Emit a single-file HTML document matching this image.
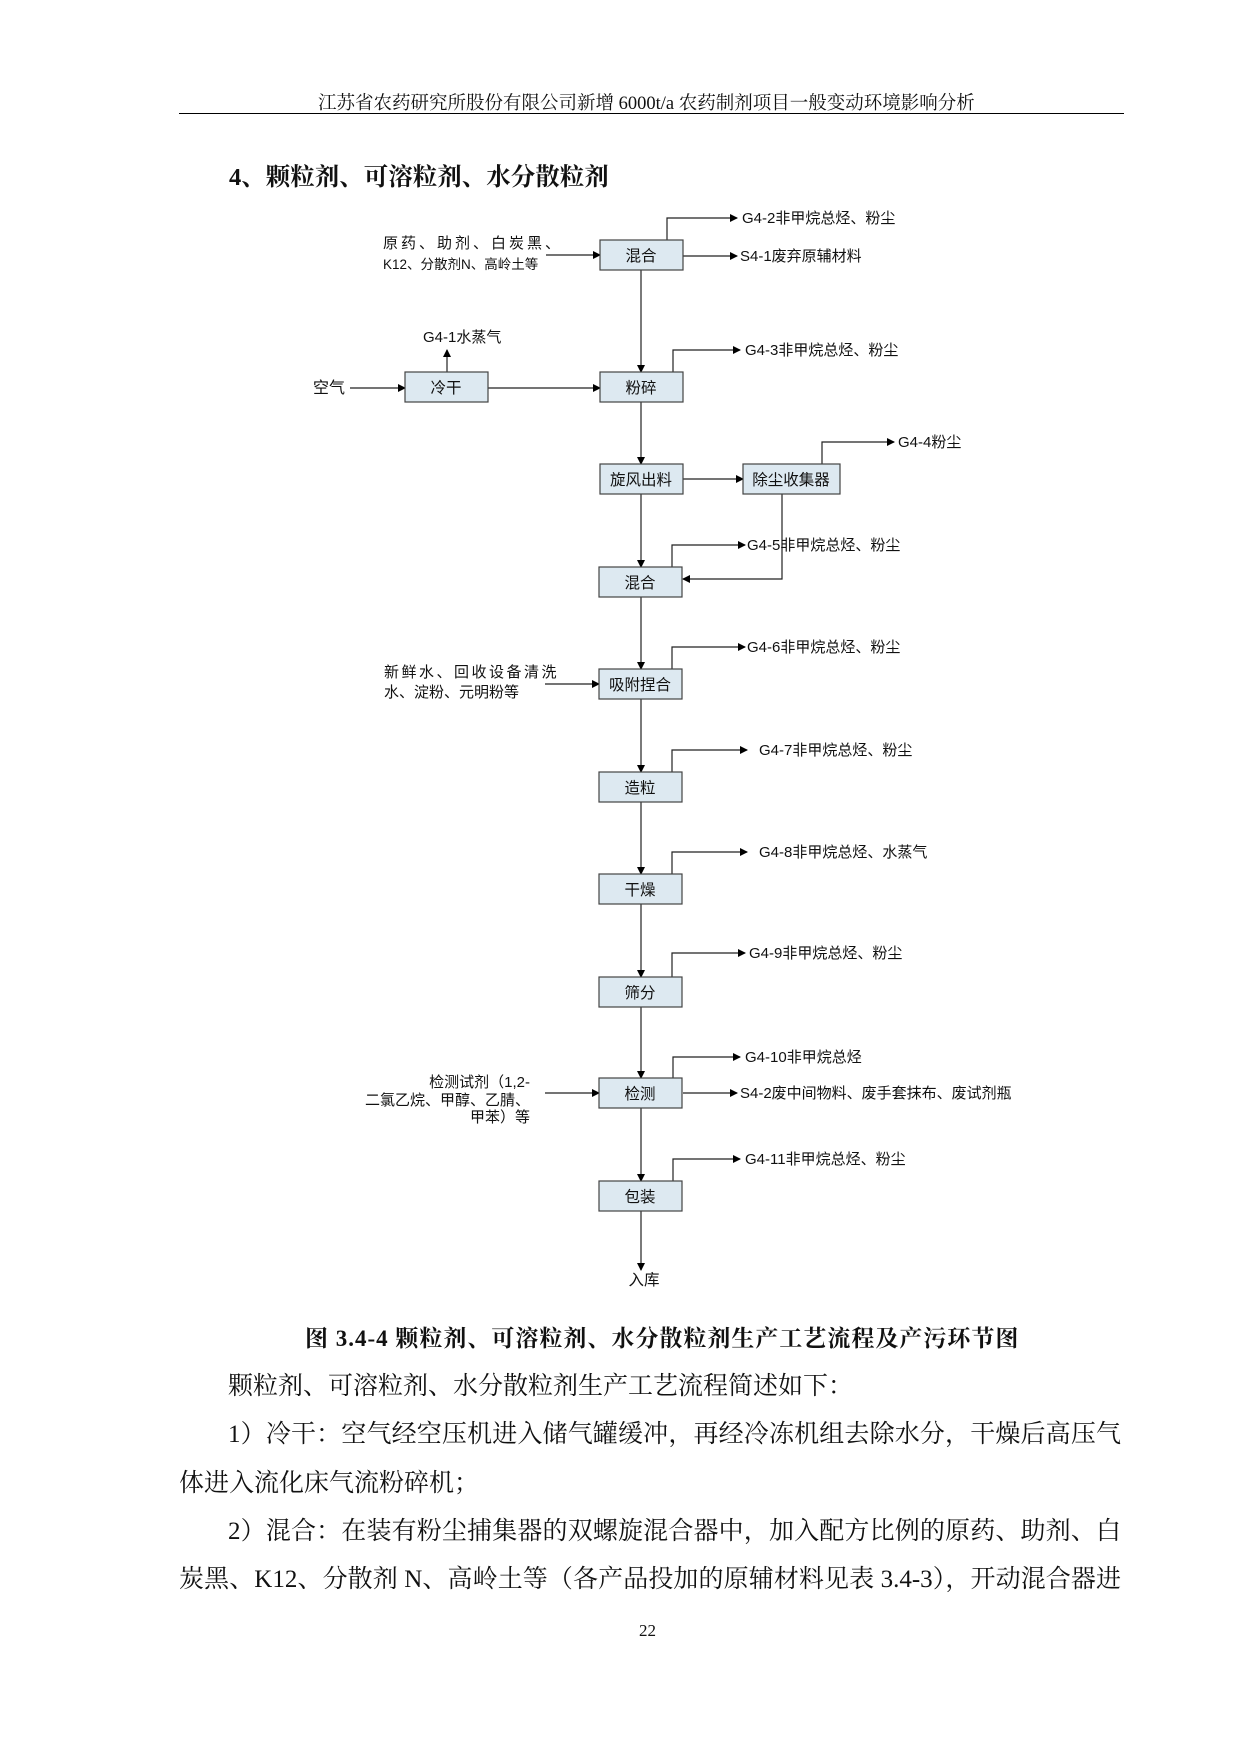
<!DOCTYPE html>
<html><head><meta charset="utf-8"><style>
body{margin:0;background:#fff;}
#p{position:relative;width:1241px;height:1755px;overflow:hidden;font-family:"Liberation Serif","Noto Serif CJK SC","Noto Sans CJK SC",serif;color:#111;}
.t{position:absolute;white-space:nowrap;}
.ln{position:absolute;left:179px;width:942px;font-size:25px;text-align:justify;text-align-last:justify;white-space:nowrap;}
</style></head><body><div id="p">
<div class="t" style="left:318px;top:89px;font-size:18.5px;">江苏省农药研究所股份有限公司新增 6000t/a 农药制剂项目一般变动环境影响分析</div>
<div style="position:absolute;left:179px;top:113px;width:945px;height:1px;background:#000;"></div>
<div class="t" style="left:229px;top:158px;font-size:24.5px;font-weight:bold;">4、颗粒剂、可溶粒剂、水分散粒剂</div>

<svg style="position:absolute;left:0;top:0" width="1241" height="1330" font-family="Liberation Sans, Noto Sans CJK SC, sans-serif" font-size="15">
<defs><marker id="a" markerWidth="8" markerHeight="8" refX="7" refY="4" orient="auto" markerUnits="userSpaceOnUse"><path d="M0,0 L8,4 L0,8 z" fill="#000"/></marker></defs>
<g stroke="#222" stroke-width="1.2" fill="none" marker-end="url(#a)">
<line x1="641" y1="270" x2="641" y2="372"/>
<line x1="641" y1="402" x2="641" y2="464"/>
<line x1="641" y1="494" x2="641" y2="567"/>
<line x1="641" y1="597" x2="641" y2="669"/>
<line x1="641" y1="699" x2="641" y2="772"/>
<line x1="641" y1="802" x2="641" y2="874"/>
<line x1="641" y1="904" x2="641" y2="977"/>
<line x1="641" y1="1007" x2="641" y2="1078"/>
<line x1="641" y1="1108" x2="641" y2="1181"/>
<line x1="641" y1="1211" x2="641" y2="1270"/>
<line x1="546" y1="255" x2="600" y2="255"/>
<line x1="350" y1="388" x2="405" y2="388"/>
<line x1="488" y1="388" x2="600" y2="388"/>
<line x1="447" y1="372" x2="447" y2="350"/>
<line x1="683" y1="479" x2="743" y2="479"/>
<line x1="545" y1="684" x2="599" y2="684"/>
<line x1="545" y1="1093" x2="599" y2="1093"/>
<line x1="683" y1="256" x2="737" y2="256"/>
<line x1="683" y1="1093" x2="737" y2="1093"/>
<polyline points="667,240 667,218 737,218"/>
<polyline points="673,372 673,350 740,350"/>
<polyline points="822,464 822,442 894,442"/>
<polyline points="672,567 672,545 745,545"/>
<polyline points="782,494 782,579 683,579"/>
<polyline points="672,669 672,647 745,647"/>
<polyline points="672,772 672,750 747,750"/>
<polyline points="672,874 672,852 747,852"/>
<polyline points="672,977 672,953 745,953"/>
<polyline points="673,1078 673,1057 740,1057"/>
<polyline points="673,1181 673,1159 740,1159"/>
</g>
<g fill="#dde9f1" stroke="#444" stroke-width="1.2">
<rect x="600" y="240" width="83" height="30"/>
<rect x="405" y="372" width="83" height="30"/>
<rect x="600" y="372" width="83" height="30"/>
<rect x="600" y="464" width="83" height="30"/>
<rect x="743" y="464" width="97" height="30"/>
<rect x="599" y="567" width="83" height="30"/>
<rect x="599" y="669" width="83" height="30"/>
<rect x="599" y="772" width="83" height="30"/>
<rect x="599" y="874" width="83" height="30"/>
<rect x="599" y="977" width="83" height="30"/>
<rect x="599" y="1078" width="83" height="30"/>
<rect x="599" y="1181" width="83" height="30"/>
</g>
<g fill="#111" text-anchor="middle" font-size="15.5">
<text x="641" y="261">混合</text>
<text x="446" y="393">冷干</text>
<text x="641" y="393">粉碎</text>
<text x="641" y="485">旋风出料</text>
<text x="791" y="485">除尘收集器</text>
<text x="640" y="588">混合</text>
<text x="640" y="690">吸附捏合</text>
<text x="640" y="793">造粒</text>
<text x="640" y="895">干燥</text>
<text x="640" y="998">筛分</text>
<text x="640" y="1099">检测</text>
<text x="640" y="1202">包装</text>
<text x="644" y="1285">入库</text>
</g>
<g fill="#111">
<text x="742" y="223">G4-2非甲烷总烃、粉尘</text>
<text x="740" y="261">S4-1废弃原辅材料</text>
<text x="383" y="248" letter-spacing="3">原药、助剂、白炭黑、</text>
<text x="383" y="269" font-size="13.5">K12、分散剂N、高岭土等</text>
<text x="423" y="342">G4-1水蒸气</text>
<text x="313" y="393" font-size="16">空气</text>
<text x="745" y="355">G4-3非甲烷总烃、粉尘</text>
<text x="898" y="447">G4-4粉尘</text>
<text x="747" y="550">G4-5非甲烷总烃、粉尘</text>
<text x="747" y="652">G4-6非甲烷总烃、粉尘</text>
<text x="384" y="677" letter-spacing="2.5">新鲜水、回收设备清洗</text>
<text x="384" y="697">水、淀粉、元明粉等</text>
<text x="759" y="755">G4-7非甲烷总烃、粉尘</text>
<text x="759" y="857">G4-8非甲烷总烃、水蒸气</text>
<text x="749" y="958">G4-9非甲烷总烃、粉尘</text>
<text x="745" y="1062">G4-10非甲烷总烃</text>
<text x="740" y="1098">S4-2废中间物料、废手套抹布、废试剂瓶</text>
<text x="745" y="1164">G4-11非甲烷总烃、粉尘</text>
<g text-anchor="end">
<text x="530" y="1087">检测试剂（1,2-</text>
<text x="530" y="1105">二氯乙烷、甲醇、乙腈、</text>
<text x="530" y="1122">甲苯）等</text>
</g>
</g>
</svg>

<div class="t" style="left:305px;top:1320px;font-size:23px;font-weight:bold;letter-spacing:1px;">图 3.4-4  颗粒剂、可溶粒剂、水分散粒剂生产工艺流程及产污环节图</div>
<div class="t" style="left:228px;top:1366px;font-size:25px;">颗粒剂、可溶粒剂、水分散粒剂生产工艺流程简述如下：</div>
<div class="ln" style="top:1414px;padding-left:49px;width:893px;">1）冷干：空气经空压机进入储气罐缓冲，再经冷冻机组去除水分，干燥后高压气</div>
<div class="t" style="left:179px;top:1463px;font-size:25px;">体进入流化床气流粉碎机；</div>
<div class="ln" style="top:1511px;padding-left:49px;width:893px;">2）混合：在装有粉尘捕集器的双螺旋混合器中，加入配方比例的原药、助剂、白</div>
<div class="ln" style="top:1559px;">炭黑、K12、分散剂 N、高岭土等（各产品投加的原辅材料见表 3.4-3），开动混合器进</div>
<div class="t" style="left:639px;top:1621px;font-size:17px;">22</div>
</div></body></html>
